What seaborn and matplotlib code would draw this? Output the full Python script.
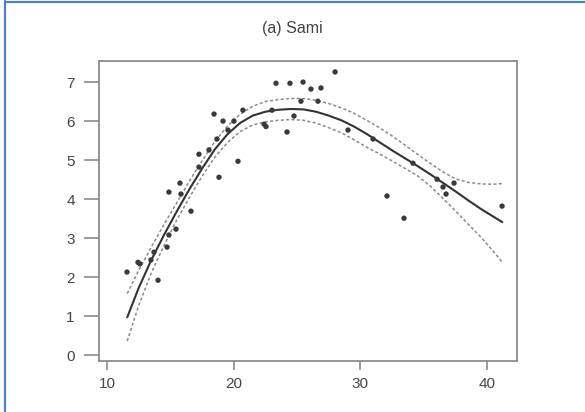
import matplotlib
matplotlib.use("Agg")
import matplotlib.pyplot as plt
from matplotlib.lines import Line2D
import numpy as np
import pandas as pd
import seaborn as sns

# Observed measurements
obs_x = [11.58, 12.45, 12.6, 13.47, 13.71, 14.03, 14.74, 14.89, 15.45, 16.63,
         14.89, 15.76, 15.84, 17.26, 18.84, 20.34, 17.26, 18.05, 18.68, 18.45,
         19.16, 20.02, 19.55, 20.73, 22.4, 22.55, 23.02, 23.34, 24.44, 24.21,
         24.76, 25.31, 25.47, 26.1, 26.65, 26.89, 28.0, 29.02, 31.0, 32.1,
         33.44, 34.15, 36.05, 36.52, 36.76, 37.39, 41.18]
obs_y = [2.13, 2.38, 2.34, 2.44, 2.64, 1.92, 2.77, 3.08, 3.23, 3.69,
         4.18, 4.41, 4.13, 4.82, 4.56, 4.97, 5.15, 5.26, 5.54, 6.18,
         6.0, 6.0, 5.77, 6.28, 5.92, 5.86, 6.28, 6.97, 6.97, 5.72,
         6.13, 6.51, 7.0, 6.82, 6.51, 6.85, 7.26, 5.77, 5.54, 4.08,
         3.51, 4.92, 4.51, 4.31, 4.13, 4.41, 3.82]

# Fitted curve with pointwise confidence band
fit_x = [11.6, 12.5, 13.5, 14.5, 15.5, 16.5, 17.5, 18.5, 19.5, 20.5, 21.5,
         22.5, 23.5, 24.5, 25.5, 26.5, 27.5, 28.5, 29.5, 30.5, 31.5, 32.5,
         33.5, 34.5, 35.5, 36.5, 37.5, 38.5, 39.5, 40.5, 41.2]
fit_mid = [0.97, 1.72, 2.44, 3.08, 3.68, 4.25, 4.78, 5.27, 5.66, 5.95, 6.14,
           6.24, 6.29, 6.31, 6.3, 6.24, 6.14, 6.02, 5.86, 5.67, 5.46, 5.25,
           5.05, 4.85, 4.64, 4.42, 4.2, 3.97, 3.75, 3.55, 3.41]
fit_upper = [1.58, 2.17, 2.77, 3.35, 3.9, 4.46, 4.98, 5.47, 5.87, 6.17, 6.38,
             6.5, 6.55, 6.58, 6.58, 6.53, 6.45, 6.34, 6.2, 6.02, 5.83, 5.62,
             5.39, 5.15, 4.92, 4.7, 4.52, 4.43, 4.39, 4.38, 4.4]
fit_lower = [0.36, 1.27, 2.11, 2.81, 3.46, 4.04, 4.58, 5.07, 5.45, 5.73, 5.9,
             5.98, 6.02, 6.04, 6.02, 5.95, 5.83, 5.7, 5.52, 5.33, 5.16, 4.98,
             4.79, 4.6, 4.34, 4.02, 3.7, 3.36, 3.03, 2.66, 2.38]

x_ticks = [10, 20, 30, 40]
y_ticks = [0, 1, 2, 3, 4, 5, 6, 7]
title = "(a) Sami"

sns.set_theme(style="white")
plt.rcParams["font.family"] = ["Liberation Sans", "DejaVu Sans"]

obs = pd.DataFrame({"x": obs_x, "y": obs_y})
fit = pd.DataFrame({"x": fit_x, "mid": fit_mid, "upper": fit_upper, "lower": fit_lower})

fig = plt.figure(figsize=(5.85, 4.12), dpi=100)
ax = fig.add_axes([0.1692, 0.1238, 0.7146, 0.7281])

sns.lineplot(data=fit, x="x", y="upper", ax=ax, color="#8a8a8a", lw=1.1,
             linestyle=(0, (2, 1.5)), sort=False)
sns.lineplot(data=fit, x="x", y="lower", ax=ax, color="#8a8a8a", lw=1.1,
             linestyle=(0, (2, 1.5)), sort=False)
sns.lineplot(data=fit, x="x", y="mid", ax=ax, color="#333333", lw=1.5, sort=False)
sns.scatterplot(data=obs, x="x", y="y", ax=ax, color="#3a3a3a", s=15,
                edgecolor="none", zorder=3)

ax.set_xlim(9.37, 42.36)
ax.set_ylim(-0.15, 7.54)
ax.set_xticks(x_ticks)
ax.set_yticks(y_ticks)
ax.set_xlabel("")
ax.set_ylabel("")
for s in ax.spines.values():
    s.set_visible(True)
    s.set_color("#8c8c8c")
    s.set_linewidth(1.3)
ax.tick_params(axis="both", which="major", direction="out", width=1.2,
               color="#8c8c8c", labelcolor="#454545", labelsize=11,
               bottom=True, left=True, top=False, right=False)
ax.tick_params(axis="y", length=10.5, pad=7)
ax.tick_params(axis="x", length=6.5, pad=5)

fig.text(0.5, 0.93, title, ha="center", va="center", fontsize=11.5, color="#444444")

# frame accents along the left and top edges
fig.add_artist(Line2D([0.0085, 0.0085], [0.0, 0.997], transform=fig.transFigure,
                      color="#4f81bd", lw=1.6))
fig.add_artist(Line2D([0.0085, 1.0], [0.996, 0.996], transform=fig.transFigure,
                      color="#4f81bd", lw=1.6))

fig.savefig("out.png", dpi=100)
